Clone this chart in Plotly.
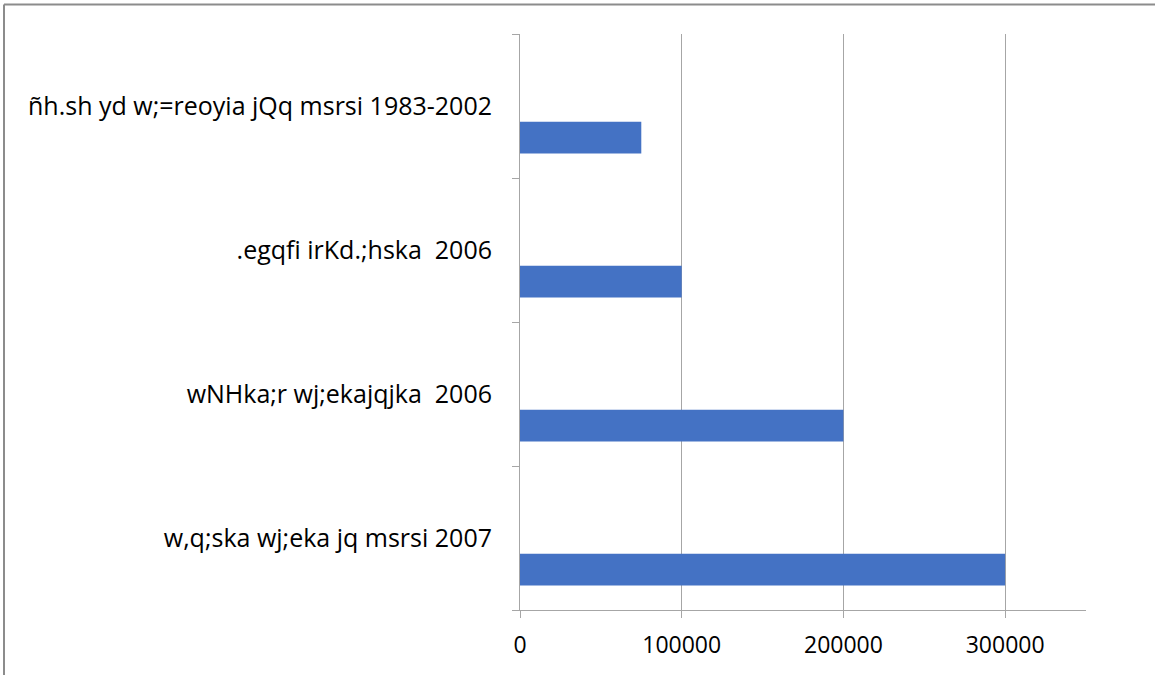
import plotly.graph_objects as go

categories = [
    "w,q;ska wj;eka jq msrsi 2007",
    "wNHka;r wj;ekajqjka  2006",
    ".egqfi irKd.;hska  2006",
    "ñh.sh yd w;=reoyia jQq msrsi 1983-2002",
]
values = [300000, 200000, 100000, 75000]
x_ticks = [0, 100000, 200000, 300000]

W, H = 1155, 675
L, R, T, B = 520, 69, 34, 65
pw = W - L - R
ph = H - T - B

grid = "#A6A6A6"

fig = go.Figure()
fig.add_trace(go.Bar(
    y=categories,
    x=values,
    orientation="h",
    marker=dict(color="#4472C4", line=dict(width=0)),
    width=0.22,
    offset=-0.33,
    hoverinfo="x+y",
))

fig.update_layout(
    width=W, height=H,
    margin=dict(l=L, r=R, t=T, b=B, pad=0),
    paper_bgcolor="white",
    plot_bgcolor="white",
    showlegend=False,
    font=dict(family="Open Sans, sans-serif", color="#000000"),
    xaxis=dict(
        range=[0, 350000],
        tickvals=x_ticks,
        ticktext=[str(v) for v in x_ticks],
        showgrid=True, gridcolor=grid, gridwidth=1,
        zeroline=False,
        showline=True, linecolor=grid, linewidth=1,
        ticks="outside", ticklen=7, tickcolor=grid,
        ticklabelstandoff=7,
        tickfont=dict(size=23, family="Open Sans, sans-serif", color="#000000"),
        fixedrange=True,
    ),
    yaxis=dict(
        type="category",
        categoryorder="array",
        categoryarray=categories,
        range=[-0.5, 3.5],
        showgrid=False,
        showline=True, linecolor=grid, linewidth=1,
        ticks="outside", ticklen=7, tickcolor=grid,
        tickson="boundaries",
        ticklabelstandoff=22,
        tickfont=dict(size=25, family="Open Sans, sans-serif", color="#000000"),
        fixedrange=True,
    ),
    shapes=[
        dict(type="line", xref="paper", yref="paper",
             x0=(4 - L) / pw, x1=(W + 10 - L) / pw,
             y0=1 + (T - 4.5) / ph, y1=1 + (T - 4.5) / ph,
             line=dict(color="#8C8C8C", width=2)),
        dict(type="line", xref="paper", yref="paper",
             x0=(4 - L) / pw, x1=(4 - L) / pw,
             y0=1 + (T - 4.5) / ph, y1=-(H + 10 - (T + ph)) / ph,
             line=dict(color="#8C8C8C", width=2)),
    ],
)

fig.write_html(
    "out.html",
    config={"displayModeBar": False},
    post_script="document.body.style.margin='0';document.body.style.overflow='hidden';",
)
